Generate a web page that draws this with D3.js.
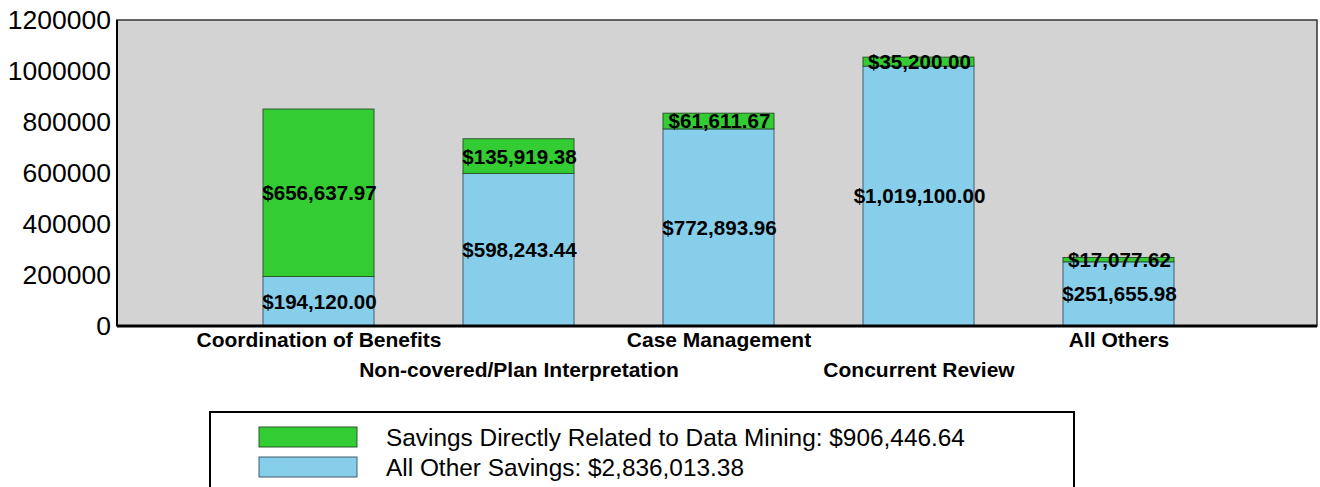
<!DOCTYPE html>
<html>
<head>
<meta charset="utf-8">
<script src="https://cdn.jsdelivr.net/npm/d3@7"></script>
<style>
html,body{margin:0;padding:0;background:#fff;}
svg{display:block;font-family:"Liberation Sans",Arial,sans-serif;}
</style>
</head>
<body>
<svg id="chart" width="1320" height="487"></svg>
<script>
const categories = ["Coordination of Benefits","Non-covered/Plan Interpretation","Case Management","Concurrent Review","All Others"];
const otherSavings = [194120.00, 598243.44, 772893.96, 1019100.00, 251655.98];
const dataMiningSavings = [656637.97, 135919.38, 61611.67, 35200.00, 17077.62];
const yTicks = [0,200000,400000,600000,800000,1000000,1200000];
const seriesNames = ["Savings Directly Related to Data Mining","All Other Savings"];

const colors = {green:"#33cc33", blue:"#87ceeb", bg:"#d3d3d3"};
const svg = d3.select("#chart");
const L=117, R=1317, T=20, B=326;

const x = d3.scalePoint().domain(categories).range([L+1.5,R+1.5]).padding(1);
const y = d3.scaleLinear().domain([0,1200000]).range([B,T]);
const bw = 111;
const fmt = v => "$" + d3.format(",.2f")(v);

svg.append("rect").attr("x",L).attr("y",T).attr("width",R-L).attr("height",B-T)
  .attr("fill",colors.bg).attr("stroke","#333").attr("stroke-width",1.5);

const rows = categories.map((c,i)=>({c, other:otherSavings[i], dm:dataMiningSavings[i], i}));

// blue (base)
svg.selectAll(".blue").data(rows).enter().append("rect")
  .attr("x",d=>x(d.c)-bw/2).attr("width",bw)
  .attr("y",d=>y(d.other)).attr("height",d=>y(0)-y(d.other))
  .attr("fill",colors.blue).attr("stroke","#3e5c6e").attr("stroke-width",1);
// green (top)
svg.selectAll(".green").data(rows).enter().append("rect")
  .attr("x",d=>x(d.c)-bw/2).attr("width",bw)
  .attr("y",d=>y(d.other+d.dm)).attr("height",d=>y(d.other)-y(d.other+d.dm))
  .attr("fill",colors.green).attr("stroke","#2a5a2a").attr("stroke-width",1);

// axis baseline
svg.append("line").attr("x1",L).attr("x2",R).attr("y1",B).attr("y2",B).attr("stroke","#000").attr("stroke-width",3);
svg.append("line").attr("x1",L).attr("x2",L).attr("y1",T).attr("y2",B).attr("stroke","#000").attr("stroke-width",2);

// y axis
const yAxis = d3.axisLeft(y).tickValues(yTicks).tickFormat(d3.format("d")).tickSize(0).tickPadding(6);
const ya = svg.append("g").attr("transform",`translate(${L},0)`).call(yAxis);
ya.select(".domain").remove();
ya.selectAll("text").attr("font-size",26.5).attr("fill","#000").attr("font-family","Liberation Sans,Arial,sans-serif");

// x labels, staggered
const xAxis = d3.axisBottom(x).tickSize(0).tickPadding(0);
const xa = svg.append("g").attr("transform",`translate(0,${B})`).call(xAxis);
xa.select(".domain").remove();
xa.selectAll("text").attr("font-size",21).attr("font-weight","bold").attr("fill","#000")
  .attr("font-family","Liberation Sans,Arial,sans-serif")
  .attr("dy",null)
  .attr("y",(d,i)=> i%2===0 ? 21 : 51);

// value labels
const lab = svg.append("g").attr("font-size",20.6).attr("font-weight","bold").attr("text-anchor","middle").attr("fill","#000");
lab.selectAll(".lb").data(rows).enter().append("text")
  .attr("x",d=>x(d.c)+1).attr("y",d=>(y(0)+y(d.other))/2).attr("dy","0.36em").text(d=>fmt(d.other));
lab.selectAll(".lg").data(rows).enter().append("text")
  .attr("x",d=>x(d.c)+1).attr("y",d=>(y(d.other)+y(d.other+d.dm))/2).attr("dy","0.36em").text(d=>fmt(d.dm));

// legend
const totalDM = d3.sum(dataMiningSavings), totalOther = d3.sum(otherSavings);
svg.append("rect").attr("x",210).attr("y",412).attr("width",864).attr("height",90)
  .attr("fill","#fff").attr("stroke","#000").attr("stroke-width",2);
const leg = [{n:seriesNames[0], v:totalDM, c:colors.green, s:"#2a5a2a"},{n:seriesNames[1], v:totalOther, c:colors.blue, s:"#3e5c6e"}];
const lg = svg.append("g");
lg.selectAll("rect.sw").data(leg).enter().append("rect")
  .attr("x",259).attr("y",(d,i)=>427+i*30).attr("width",98).attr("height",20)
  .attr("fill",d=>d.c).attr("stroke",d=>d.s).attr("stroke-width",1);
lg.selectAll("text").data(leg).enter().append("text")
  .attr("x",386).attr("y",(d,i)=>437+i*30).attr("dy","0.36em")
  .attr("font-size",24.4).attr("fill","#000")
  .text(d=>d.n+": "+fmt(d.v));
</script>
</body>
</html>
